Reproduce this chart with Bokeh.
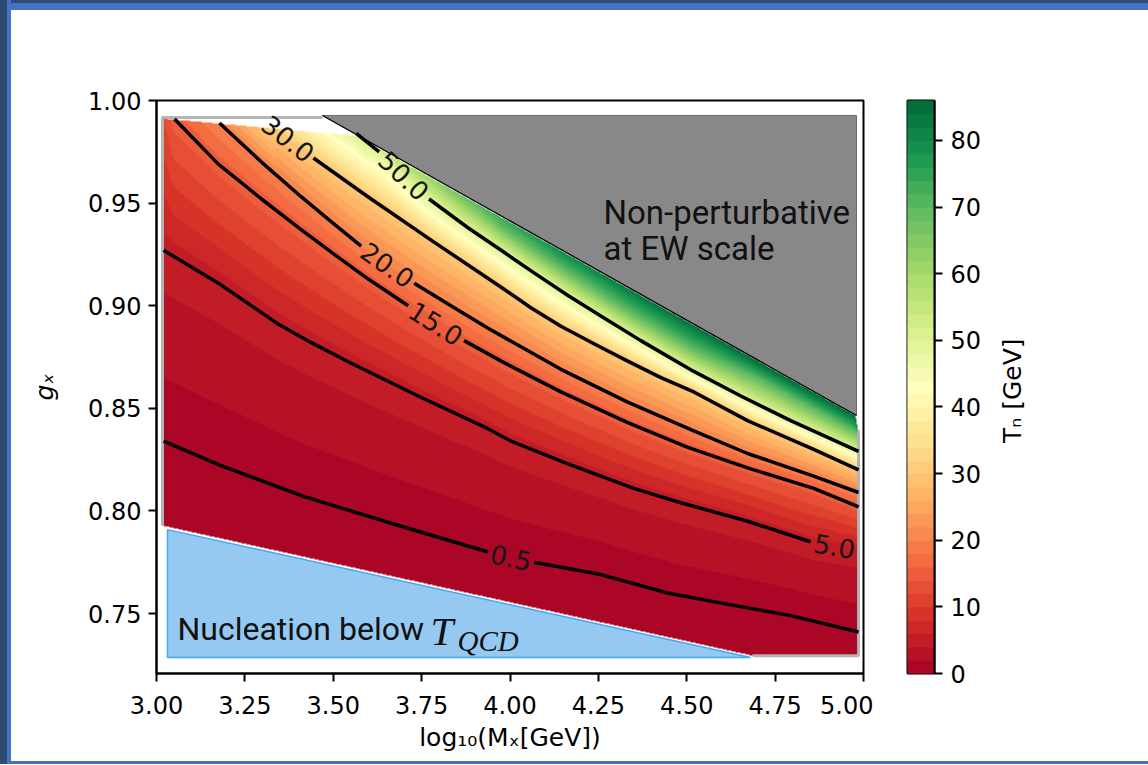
import math
import numpy as np
from bokeh.plotting import figure
from bokeh.layouts import row
from bokeh.models import LinearColorMapper, FixedTicker, NumeralTickFormatter, Range1d
from bokeh.core.properties import value
from bokeh.embed import file_html
from bokeh.resources import INLINE

nan = float("nan")

# ---------------- axes / ticks ----------------
x_ticks = [3.00, 3.25, 3.50, 3.75, 4.00, 4.25, 4.50, 4.75, 5.00]
g_ticks = [0.75, 0.80, 0.85, 0.90, 0.95, 1.00]
tn_ticks = [0, 10, 20, 30, 40, 50, 60, 70, 80]
tn_max = 86.0
x_lim = (3.0, 5.0)
g_lim = (0.7208, 1.0)

# ---------------- contour lines (log10 M_X, g_X); nan = inline label gap ----------------
contour_levels = [0.5, 5.0, 15.0, 20.0, 30.0, 50.0]
c05_x = [3.020, 3.184, 3.418, 3.664, 3.938, nan, 4.068, 4.257, 4.446, 4.633, 4.794, 4.986]
c05_g = [0.834, 0.822, 0.807, 0.794, 0.780, nan, 0.775, 0.769, 0.760, 0.754, 0.749, 0.741]
c5_x = [3.020, 3.175, 3.345, 3.438, 3.551, 3.740, 3.927, 4.003, 4.164, 4.350, 4.483, 4.672, 4.850, nan, 4.986]
c5_g = [0.927, 0.911, 0.891, 0.882, 0.872, 0.856, 0.841, 0.834, 0.823, 0.811, 0.804, 0.795, 0.785, nan, 0.781]
c15_x = [3.051, 3.175, 3.297, 3.410, 3.503, 3.599, 3.712, nan, 3.870, 3.975, 4.144, 4.333, 4.503, 4.672, 4.859, 4.986]
c15_g = [0.991, 0.969, 0.952, 0.937, 0.925, 0.913, 0.900, nan, 0.883, 0.873, 0.858, 0.843, 0.831, 0.821, 0.811, 0.802]
c20_x = [3.178, 3.297, 3.410, 3.494, 3.579, nan, 3.729, 3.833, 3.938, 4.031, 4.144, 4.333, 4.520, 4.672, 4.859, 4.986]
c20_g = [0.989, 0.970, 0.953, 0.941, 0.929, nan, 0.911, 0.900, 0.889, 0.880, 0.869, 0.853, 0.839, 0.828, 0.817, 0.809]
c30_x = [3.302, nan, 3.444, 3.599, 3.785, 3.975, 4.059, 4.144, 4.243, 4.333, 4.427, 4.520, 4.672, 4.859, 4.986]
c30_g = [0.991, nan, 0.972, 0.953, 0.931, 0.909, 0.899, 0.890, 0.881, 0.873, 0.865, 0.858, 0.844, 0.830, 0.820]
c50_x = [3.565, 3.630, nan, 3.771, 3.881, 3.975, 4.068, 4.164, 4.257, 4.370, 4.520, 4.653, 4.794, 4.986]
c50_g = [0.984, 0.975, nan, 0.952, 0.938, 0.927, 0.916, 0.905, 0.895, 0.883, 0.868, 0.856, 0.844, 0.829]

# extra iso-position read from the colours (T_n = 70, not drawn as a line)
t70_x = [3.890, 3.975, 4.144, 4.333, 4.520, 4.709, 4.986]
t70_g = [0.952, 0.939, 0.919, 0.898, 0.879, 0.864, 0.838]

# T_n along the upper edge of the computed region
top_x = [3.020, 3.051, 3.178, 3.302, 3.466, 3.565, 3.777, 3.890, 4.144, 4.398, 4.709, 4.986]
top_T = [12, 15, 20, 30, 42, 50, 62, 70, 80, 84, 86, 86]
bottom_T = 0.0

# computed region (polygon)
dom_x = [3.017, 3.563, 4.977, 4.986, 4.986, 4.686, 3.017]
dom_g = [0.9912, 0.9829, 0.8465, 0.8382, 0.7295, 0.7295, 0.7929]

# excluded regions
nonpert_x = [3.4696, 4.9802, 4.9802]
nonpert_g = [0.9927, 0.9927, 0.8465]
qcd_x = [3.0311, 4.6803, 3.0311]
qcd_g = [0.7909, 0.7286, 0.7286]

# light grey edge of the scan grid
edge_x = [3.4696, 3.017, 3.017, nan, 4.686, 4.986, 4.986]
edge_g = [0.9917, 0.9917, 0.7929, nan, 0.7295, 0.7295, 0.8392]

# ---------------- colours ----------------
rdylgn = ['#a50026', '#d73027', '#f46d43', '#fdae61', '#fee08b', '#ffffbf',
          '#d9ef8b', '#a6d96a', '#66bd63', '#1a9850', '#006837']


def cmap(t):
    t = min(max(t, 0.0), 1.0) * (len(rdylgn) - 1)
    i = min(int(t), len(rdylgn) - 2)
    f = t - i
    a = [int(rdylgn[i][k:k + 2], 16) for k in (1, 3, 5)]
    b = [int(rdylgn[i + 1][k:k + 2], 16) for k in (1, 3, 5)]
    c = [round(a[k] + (b[k] - a[k]) * f) for k in range(3)]
    return "#%02x%02x%02x" % tuple(c)


band_edges = np.arange(0, tn_max + 1, 2.0)
n_bands = len(band_edges) - 1
band_colors = [cmap((i + 0.5) / n_bands) for i in range(n_bands)]

# ---------------- figure geometry ----------------
H = 764
FW, FH = 707, 573
p = figure(width=873, height=H, x_range=Range1d(*x_lim), y_range=Range1d(*g_lim),
           output_backend="svg", toolbar_location=None,
           min_border_left=156, min_border_right=10, min_border_top=100, min_border_bottom=H - 100 - FH)
p.xgrid.visible = False
p.ygrid.visible = False
p.background_fill_color = "white"
p.border_fill_color = None
p.outline_line_color = "black"
p.outline_line_width = 2

# ---------------- field image built from the read iso-lines ----------------
lines = [(0.5, c05_x, c05_g), (5.0, c5_x, c5_g), (15.0, c15_x, c15_g), (20.0, c20_x, c20_g),
         (30.0, c30_x, c30_g), (50.0, c50_x, c50_g), (70.0, t70_x, t70_g)]
nx, ny = FW, FH
xs = x_lim[0] + (np.arange(nx) + 0.5) * (x_lim[1] - x_lim[0]) / nx
gs = g_lim[0] + (np.arange(ny) + 0.5) * (g_lim[1] - g_lim[0]) / ny
top_chain_x, top_chain_g = dom_x[:4], dom_g[:4]
bot_chain_x, bot_chain_g = [dom_x[6], dom_x[5], dom_x[4]], [dom_g[6], dom_g[5], dom_g[4]]
field = np.full((ny, nx), np.nan, dtype=np.float32)
for i, x in enumerate(xs):
    pts = [(np.interp(x, top_chain_x, top_chain_g), np.interp(x, top_x, top_T)),
           (np.interp(x, bot_chain_x, bot_chain_g), bottom_T)]
    for lev, lx, lg in lines:
        ax = np.array(lx, float)
        ag = np.array(lg, float)
        ok = ~np.isnan(ax)
        ax, ag = ax[ok], ag[ok]
        if ax.min() - 0.01 <= x <= ax.max() + 0.01:
            pts.append((np.interp(x, ax, ag), lev))
    pts.sort()
    field[:, i] = np.interp(gs, [q[0] for q in pts], [q[1] for q in pts])

# mask outside the computed region
GX, GY = np.meshgrid(xs, gs)
inside = np.zeros(GX.shape, bool)
n = len(dom_x)
j = n - 1
with np.errstate(divide="ignore", invalid="ignore"):
    for k in range(n):
        xi, yi, xj, yj = dom_x[k], dom_g[k], dom_x[j], dom_g[j]
        cross = ((yi > GY) != (yj > GY)) & (GX < (xj - xi) * (GY - yi) / (yj - yi) + xi)
        inside ^= cross
        j = k
field[~inside] = np.nan

mapper = LinearColorMapper(palette=band_colors, low=0, high=tn_max, nan_color=(0, 0, 0, 0))
p.image(image=[field], x=x_lim[0], y=g_lim[0], dw=x_lim[1] - x_lim[0], dh=g_lim[1] - g_lim[0],
        color_mapper=mapper)

# excluded regions
p.patch(qcd_x, qcd_g, fill_color="#96c9f2", line_color="#3fa9f5", line_width=1.5)
p.patch(nonpert_x, nonpert_g, fill_color="#888888", line_color="#6a6a6a", line_width=1)
p.line([nonpert_x[0], nonpert_x[2]], [nonpert_g[0], nonpert_g[2]], line_color="black", line_width=1.2)
p.line(edge_x, edge_g, line_color="#b4b4b4", line_width=3)

# contour lines and inline labels
sx = FW / (x_lim[1] - x_lim[0])
sy = FH / (g_lim[1] - g_lim[0])
lab_x, lab_y, lab_t, lab_a = [], [], [], []
for lev, lx, lg in lines[:-1]:
    p.line(lx, lg, line_color="black", line_width=3.5, line_join="round")
    k = [i for i, v in enumerate(lx) if v != v][0]
    x1, g1, x2, g2 = lx[k - 1], lg[k - 1], lx[k + 1], lg[k + 1]
    lab_x.append((x1 + x2) / 2)
    lab_y.append((g1 + g2) / 2)
    lab_t.append("%.1f" % lev)
    lab_a.append(math.atan2((g2 - g1) * sy, (x2 - x1) * sx))
p.text(x=lab_x, y=lab_y, text=lab_t, angle=lab_a, text_align="center", text_baseline="middle",
       text_font=value("DejaVu Sans"), text_font_size="26px", text_color="#151515")

# region annotations
p.text(x=[4.2645, 4.2645], y=[0.9454, 0.9279], text=["Non-perturbative", "at EW scale"],
       text_font=value("Roboto"), text_font_size="33px", text_color="#111111",
       text_align="left", text_baseline="alphabetic")
p.text(x=[3.0594], y=[0.7427], text=["Nucleation below"], text_font=value("Roboto"),
       text_font_size="32px", text_color="#111111", text_align="left", text_baseline="alphabetic")
p.text(x=[3.7751], y=[0.7417], text=["T"], text_font=value("Liberation Serif"),
       text_font_style="italic", text_font_size="41px", text_color="#111111",
       text_align="left", text_baseline="alphabetic")
p.text(x=[3.8515], y=[0.7368], text=["QCD"], text_font=value("Liberation Serif"),
       text_font_style="italic", text_font_size="29px", text_color="#111111",
       text_align="left", text_baseline="alphabetic")

# axes styling
for ax in (p.xaxis[0], p.yaxis[0]):
    ax.major_tick_out = 8
    ax.major_tick_in = 0
    ax.major_tick_line_width = 2
    ax.major_tick_line_color = "black"
    ax.minor_tick_line_color = None
    ax.axis_line_width = 2
    ax.axis_line_color = "black"
    ax.major_label_text_font = "DejaVu Sans"
    ax.major_label_text_font_size = "24px"
    ax.major_label_text_color = "black"
    ax.axis_label_text_font = "DejaVu Sans"
    ax.axis_label_text_font_size = "25px"
    ax.axis_label_text_color = "black"
    ax.axis_label_text_font_style = "normal"
    ax.formatter = NumeralTickFormatter(format="0.00")
p.xaxis.ticker = FixedTicker(ticks=x_ticks)
p.yaxis.ticker = FixedTicker(ticks=g_ticks)
p.xaxis.major_label_standoff = 14
p.yaxis.major_label_standoff = 7
p.xaxis.axis_label = "log₁₀(Mₓ[GeV])"
p.xaxis.axis_label_standoff = 6
p.yaxis.axis_label = "gₓ"
p.yaxis.axis_label_text_font_style = "italic"
p.yaxis.axis_label_standoff = 26

# ---------------- colour bar ----------------
CB_TOP, CB_H = 97, 578
cb = figure(width=121, height=H, x_range=Range1d(0, 1), y_range=Range1d(0, tn_max),
            y_axis_location="right", output_backend="svg", toolbar_location=None,
            min_border_left=34, min_border_right=60, min_border_top=CB_TOP,
            min_border_bottom=H - CB_TOP - CB_H)
cb.xgrid.visible = False
cb.ygrid.visible = False
cb.xaxis.visible = False
cb.border_fill_color = None
cb.outline_line_color = "black"
cb.outline_line_width = 2
cb.quad(left=0, right=1, bottom=band_edges[:-1], top=band_edges[1:], fill_color=band_colors,
        line_color=band_colors, line_width=1)
ya = cb.yaxis[0]
ya.ticker = FixedTicker(ticks=tn_ticks)
ya.major_tick_out = 8
ya.major_tick_in = 0
ya.major_tick_line_width = 2
ya.minor_tick_line_color = None
ya.axis_line_width = 2
ya.major_label_text_font = "DejaVu Sans"
ya.major_label_text_font_size = "24px"
ya.major_label_text_color = "black"
ya.major_label_standoff = 8

# colour-bar title (reads bottom to top)
tf = figure(width=154, height=H, x_range=Range1d(0, 154), y_range=Range1d(0, H),
            output_backend="svg", toolbar_location=None, x_axis_location=None,
            y_axis_location=None, min_border=0)
tf.xgrid.visible = False
tf.ygrid.visible = False
tf.outline_line_color = None
tf.background_fill_color = None
tf.border_fill_color = None
tf.text(x=[18], y=[H - 387], text=["Tₙ [GeV]"], angle=math.pi / 2, text_align="center",
        text_baseline="middle", text_font=value("DejaVu Sans"), text_font_size="25px",
        text_color="black")

layout = row(p, cb, tf)
layout.styles = {
    "background": (
        "linear-gradient(to right, #2f4b74 0px, #2f4b74 7px, #4472c4 7px, #4472c4 11px, rgba(0,0,0,0) 11px), "
        "linear-gradient(to bottom, #2f4b74 0px, #2f4b74 3px, #4472c4 3px, #4472c4 10px, rgba(0,0,0,0) 10px), "
        "linear-gradient(to top, #4472c4 0px, #4472c4 3px, rgba(0,0,0,0) 3px), #ffffff"
    )
}
open("out.html", "w").write(file_html(layout, INLINE))
